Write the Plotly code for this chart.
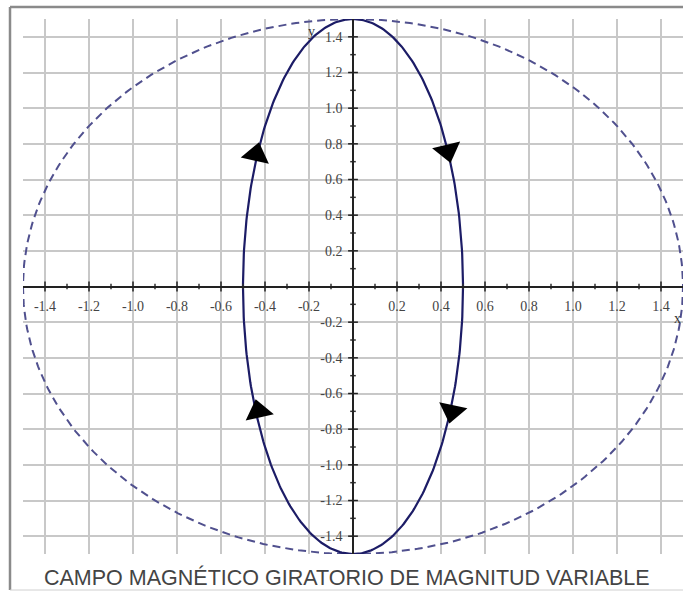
import numpy as np
import plotly.graph_objects as go

# Axis ticks (major ticks are labelled, minor ticks are plain marks)
tick_vals = [-1.4, -1.2, -1.0, -0.8, -0.6, -0.4, -0.2, 0.2, 0.4, 0.6, 0.8, 1.0, 1.2, 1.4]
tick_text = ["-1.4", "-1.2", "-1.0", "-0.8", "-0.6", "-0.4", "-0.2",
             "0.2", "0.4", "0.6", "0.8", "1.0", "1.2", "1.4"]
minor_vals = [-1.3, -1.1, -0.9, -0.7, -0.5, -0.3, -0.1, 0.1, 0.3, 0.5, 0.7, 0.9, 1.1, 1.3]

# Field locus: circle of maximum magnitude (dashed) and the actual ellipse (solid)
circle_radius = 1.5
ellipse_a = 0.5   # semi-axis along x
ellipse_b = 1.5   # semi-axis along y

# Direction arrows placed on the ellipse (clockwise rotation)
arrow_x = [0.43, -0.44, -0.43, 0.45]
arrow_y = [0.76, 0.74, -0.70, -0.70]

AX_RANGE = [-1.5, 1.5]
W, H = 684, 592
M_L, M_R, M_T, M_B = 23, 1, 19, 38
SX = (W - M_L - M_R) / (AX_RANGE[1] - AX_RANGE[0])
SY = (H - M_T - M_B) / (AX_RANGE[1] - AX_RANGE[0])

t = np.linspace(0, 2 * np.pi, 400)

fig = go.Figure()

fig.add_trace(go.Scatter(
    x=circle_radius * np.sin(t), y=circle_radius * np.cos(t),
    mode="lines", line=dict(color="#50508e", width=2, dash="8px,5px"),
    hoverinfo="skip", showlegend=False))

fig.add_trace(go.Scatter(
    x=ellipse_a * np.sin(t), y=ellipse_b * np.cos(t),
    mode="lines", line=dict(color="#1c1c66", width=2.2),
    hoverinfo="skip", showlegend=False))

# Tick marks crossing the axes
fig.add_trace(go.Scatter(
    x=tick_vals, y=[0] * len(tick_vals), mode="markers",
    marker=dict(symbol="line-ns", size=7, line=dict(width=1.5, color="#222")),
    hoverinfo="skip", showlegend=False))
fig.add_trace(go.Scatter(
    x=minor_vals, y=[0] * len(minor_vals), mode="markers",
    marker=dict(symbol="line-ns", size=4, line=dict(width=1.5, color="#333")),
    hoverinfo="skip", showlegend=False))
fig.add_trace(go.Scatter(
    x=[0] * len(tick_vals), y=tick_vals, mode="markers",
    marker=dict(symbol="line-ew", size=7, line=dict(width=1.5, color="#222")),
    hoverinfo="skip", showlegend=False))
fig.add_trace(go.Scatter(
    x=[0] * len(minor_vals), y=minor_vals, mode="markers",
    marker=dict(symbol="line-ew", size=4, line=dict(width=1.5, color="#333")),
    hoverinfo="skip", showlegend=False))

# Arrow heads oriented along the clockwise tangent (in screen pixels)
angles = []
for xa, ya in zip(arrow_x, arrow_y):
    th = np.arctan2(xa / ellipse_a, ya / ellipse_b)
    px = SX * ellipse_a * np.cos(th)
    py_down = SY * ellipse_b * np.sin(th)
    angles.append(float(np.degrees(np.arctan2(px, -py_down))))

fig.add_trace(go.Scatter(
    x=arrow_x, y=arrow_y, mode="markers",
    marker=dict(symbol="triangle-up", size=25, color="black", angle=angles,
                line=dict(width=0)),
    hoverinfo="skip", showlegend=False))

axis_common = dict(
    range=AX_RANGE, tickvals=tick_vals, ticktext=tick_text,
    showgrid=True, gridcolor="#c8c8c8", gridwidth=2,
    zeroline=False, showline=True, linecolor="#222", linewidth=1.5,
    anchor="free", position=0.5, ticks="",
    tickfont=dict(family="Liberation Serif", size=14, color="#444"),
    fixedrange=True,
)

fig.update_layout(
    width=W, height=H,
    margin=dict(l=M_L, r=M_R, t=M_T, b=M_B),
    paper_bgcolor="white", plot_bgcolor="white",
    xaxis=dict(**axis_common, ticklabelstandoff=7),
    yaxis=dict(**axis_common, ticklabelstandoff=7),
    showlegend=False,
    shapes=[
        dict(type="line", xref="paper", yref="paper",
             x0=(10 - M_L) / (W - M_L - M_R), x1=1.0,
             y0=(H - M_B - 7) / (H - M_T - M_B), y1=(H - M_B - 7) / (H - M_T - M_B),
             line=dict(color="#8a8a8a", width=2.5)),
        dict(type="line", xref="paper", yref="paper",
             x0=(10 - M_L) / (W - M_L - M_R), x1=(10 - M_L) / (W - M_L - M_R),
             y0=(H - M_B - 590) / (H - M_T - M_B), y1=(H - M_B - 7) / (H - M_T - M_B),
             line=dict(color="#8a8a8a", width=2.5)),
        dict(type="line", xref="paper", yref="paper",
             x0=(10 - M_L) / (W - M_L - M_R), x1=1.0,
             y0=(H - M_B - 590) / (H - M_T - M_B), y1=(H - M_B - 590) / (H - M_T - M_B),
             line=dict(color="#d0d0d0", width=1)),
    ],
    annotations=[
        dict(text="x", x=1.475, y=-0.18, xref="x", yref="y", showarrow=False,
             font=dict(family="Liberation Serif", size=14, color="#333")),
        dict(text="y", x=-0.19, y=1.43, xref="x", yref="y", showarrow=False,
             font=dict(family="Liberation Serif", size=14, color="#333")),
        dict(text="CAMPO MAGNÉTICO GIRATORIO DE MAGNITUD VARIABLE",
             x=(347 - M_L) / (W - M_L - M_R), y=(H - M_B - 577) / (H - M_T - M_B),
             xref="paper", yref="paper", showarrow=False,
             xanchor="center", yanchor="middle",
             font=dict(family="Liberation Sans", size=21.5, color="#444")),
    ],
)

fig.write_html("out.html")
